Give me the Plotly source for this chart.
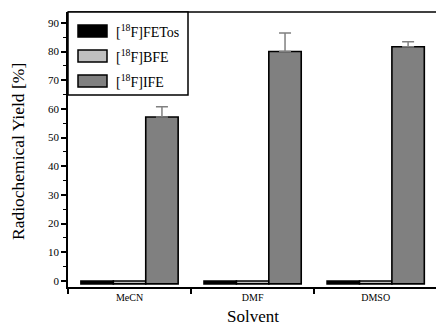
import plotly.graph_objects as go

categories = ["MeCN", "DMF", "DMSO"]
series_names = ["[<sup>18</sup>F]FETos", "[<sup>18</sup>F]BFE", "[<sup>18</sup>F]IFE"]
fetos = [0.0, 0.0, 0.0]
bfe = [0.0, 0.0, 0.0]
ife = [57.2, 80.0, 81.7]
ife_err = [3.6, 6.5, 1.7]
y_ticks = [0, 10, 20, 30, 40, 50, 60, 70, 80, 90]

colors = ["#000000", "#C0C0C0", "#808080"]
FONT = "Liberation Serif"

fig = go.Figure()
for name, vals, col, err in [
    (series_names[0], fetos, colors[0], None),
    (series_names[1], bfe, colors[1], None),
    (series_names[2], ife, colors[2], ife_err),
]:
    kw = {}
    if err is not None:
        kw["error_y"] = dict(type="data", array=err, symmetric=False,
                             arrayminus=[0] * len(err),
                             color="#808080", thickness=1.5, width=6)
    fig.add_trace(go.Bar(
        x=categories, y=[v + 1.0 for v in vals], base=-1.0, name=name,
        marker=dict(color=col, line=dict(color="#000000", width=1.6)),
        showlegend=False, **kw))

# legend drawn as box + swatches + text (paper coordinates)
W, H, L, T = 368.0, 275.0, 68.0, 12.0
def px(x):
    return (x - L) / W
def py(y):
    return (H + T - y) / H

shapes = [
    # top frame line
    dict(type="line", xref="paper", yref="paper", x0=0, x1=1, y0=1, y1=1,
         line=dict(color="#000000", width=1.5), layer="above"),
    # legend box
    dict(type="rect", xref="paper", yref="paper",
         x0=px(68), x1=px(188), y0=py(95), y1=py(12),
         line=dict(color="#000000", width=1.5), fillcolor="white", layer="above"),
]
annotations = []
for i, (name, col) in enumerate(zip(series_names, colors)):
    yc = 31 + 25 * i
    shapes.append(dict(type="rect", xref="paper", yref="paper",
                       x0=px(78), x1=px(107), y0=py(yc + 6), y1=py(yc - 6),
                       line=dict(color="#000000", width=1.5), fillcolor=col, layer="above"))
    annotations.append(dict(xref="paper", yref="paper", x=px(114), y=py(yc),
                            text=name, showarrow=False, xanchor="left", yanchor="middle",
                            font=dict(family=FONT, size=14, color="#000000")))

# axis titles
annotations.append(dict(xref="paper", yref="paper", x=px(253), y=py(316),
                        text="Solvent", showarrow=False, xanchor="center", yanchor="middle",
                        font=dict(family=FONT, size=17, color="#000000")))
annotations.append(dict(xref="paper", yref="paper", x=px(18), y=py(152),
                        text="Radiochemical Yield [%]", showarrow=False, textangle=-90,
                        xanchor="center", yanchor="middle",
                        font=dict(family=FONT, size=17.5, color="#000000")))

fig.update_layout(
    width=436, height=326,
    margin=dict(l=68, r=0, t=12, b=39),
    paper_bgcolor="white", plot_bgcolor="white",
    barmode="group", bargap=0.21, bargroupgap=0.0,
    font=dict(family=FONT, color="#000000"),
    shapes=shapes, annotations=annotations,
    xaxis=dict(
        range=[-0.5, 2.49], showgrid=False, zeroline=False, showline=True,
        linecolor="#000000", linewidth=1.5, mirror=False, ticks="outside",
        tickson="boundaries", ticklen=5, tickwidth=1.5, tickcolor="#000000",
        tickfont=dict(family=FONT, size=10),
    ),
    yaxis=dict(
        range=[-2.1, 93.8], showgrid=False, zeroline=False, showline=True, mirror=False,
        linecolor="#000000", linewidth=1.5, ticks="outside", ticklen=5,
        tickwidth=1.5, tickcolor="#000000", tickvals=y_ticks,
        tickfont=dict(family=FONT, size=11),
        minor=dict(dtick=5, tick0=0, ticks="outside", ticklen=3, tickwidth=1,
                   tickcolor="#000000", showgrid=False),
    ),
)

fig.write_html("out.html", config={"displayModeBar": False},
               post_script="document.body.style.margin='0';document.body.style.overflow='hidden';")
